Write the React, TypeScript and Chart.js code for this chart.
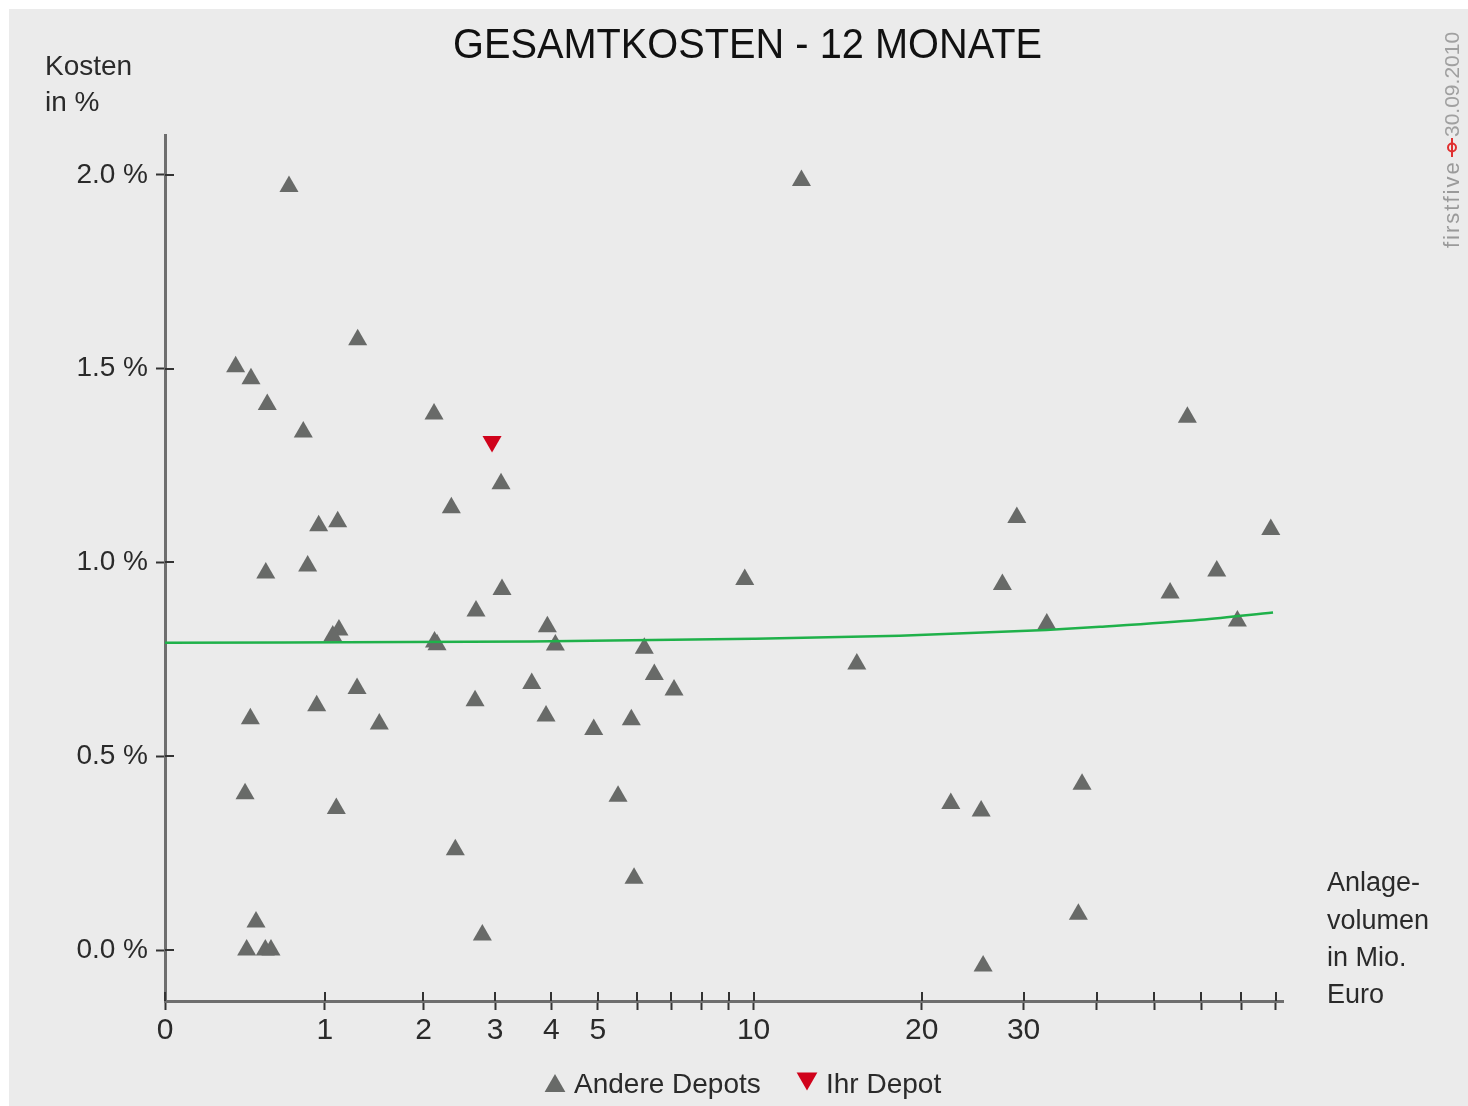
import React, { useEffect, useRef } from 'react';
import { Chart, registerables } from 'chart.js';

Chart.register(...registerables);

// ---- texts ----
const TITLE = 'GESAMTKOSTEN - 12 MONATE';
const Y_TITLE = ['Kosten', 'in %'];
const X_TITLE = ['Anlage-', 'volumen', 'in Mio.', 'Euro'];
const LEGEND_LABELS = ['Andere Depots', 'Ihr Depot'];
const WATERMARK = ['firstfive', '30.09.2010'];

// ---- data: Anlagevolumen (Mio. Euro) and Kosten (%) ----
const andereVolumen = [
  0.721, 1.293, 0.369, 0.463, 0.569, 0.828, 2.131, 3.095, 2.357, 0.95,
  1.111, 0.559, 0.862, 3.111, 2.706, 1.122, 1.068, 2.137, 2.169, 1.287,
  0.934, 0.459, 1.506, 2.692, 3.626, 0.426, 1.099, 2.411, 0.495, 0.436,
  0.556, 0.594, 2.801, 9.63, 3.921, 4.078, 6.198, 6.484, 7.081, 3.895,
  4.906, 5.842, 5.496, 5.915, 15.37, 12.23, 56.89, 29.21, 78.52, 63.74,
  27.59, 53.2, 32.87, 69.03, 22.47, 25.36, 37.75, 37.21, 25.56,
];
const andereKosten = [
  1.97, 1.575, 1.505, 1.474, 1.408, 1.337, 1.383, 1.203, 1.141, 1.095,
  1.105, 0.973, 0.991, 0.93, 0.875, 0.826, 0.81, 0.795, 0.788, 0.675,
  0.63, 0.597, 0.583, 0.643, 0.688, 0.403, 0.365, 0.259, 0.072, 0.0,
  0.0, 0.0, 0.039, 0.956, 0.834, 0.787, 0.779, 0.711, 0.671, 0.604,
  0.569, 0.594, 0.397, 0.185, 0.738, 1.986, 1.375, 1.116, 1.085, 0.978,
  0.943, 0.921, 0.841, 0.849, 0.378, 0.359, 0.428, 0.092, -0.041,
];
const ihrVolumen = [2.951];
const ihrKosten = [1.312];

const trendVolumen = [0, 3.6, 10, 18.3, 32.8, 40.5, 59.8, 79.2];
const trendKosten = [0.793, 0.796, 0.803, 0.811, 0.826, 0.834, 0.852, 0.871];

const yTickValues = [0, 0.5, 1.0, 1.5, 2.0];
const xTickValues = [0, 1, 2, 3, 4, 5, 6, 7, 8, 9, 10, 20, 30, 40, 50, 60, 70, 80];
const xTickLabelled = [0, 1, 2, 3, 4, 5, 10, 20, 30];

const X_MAX = 82.3;
const Y_MIN = -0.1316;
const Y_MAX = 2.1032;

// axis transform of the Anlagevolumen axis (compressed, log-like)
const SCALE_C = 1.2;
const tx = (v: number) => Math.log(1 + v / SCALE_C);

const FONT = "'Liberation Sans', Arial, sans-serif";
const GRAY_TRI = '#686a68';
const RED_TRI = '#d0021b';

function triangle(ctx: CanvasRenderingContext2D, cx: number, cy: number, r: number, down: boolean) {
  const s = down ? -1 : 1;
  const hw = r * Math.sin(Math.PI * 2 / 3);
  ctx.beginPath();
  ctx.moveTo(cx, cy - s * r);
  ctx.lineTo(cx + hw, cy + s * r / 2);
  ctx.lineTo(cx - hw, cy + s * r / 2);
  ctx.closePath();
  ctx.fill();
}

const innerTicks = {
  id: 'innerTicks',
  afterDraw(chart: any) {
    const { ctx, chartArea, scales } = chart;
    const xs = scales.x;
    const ys = scales.y;
    ctx.save();
    ctx.strokeStyle = '#333';
    ctx.lineWidth = 2;
    xs.ticks.forEach((t: any) => {
      const p = Math.round(xs.getPixelForValue(t.value));
      ctx.beginPath();
      ctx.moveTo(p, chartArea.bottom);
      ctx.lineTo(p, chartArea.bottom - 9);
      ctx.stroke();
    });
    ys.ticks.forEach((t: any) => {
      const p = Math.round(ys.getPixelForValue(t.value));
      ctx.beginPath();
      ctx.moveTo(chartArea.left, p);
      ctx.lineTo(chartArea.left + 9, p);
      ctx.stroke();
    });
    ctx.restore();
  },
};

const texts = {
  id: 'texts',
  afterDraw(chart: any) {
    const ctx: CanvasRenderingContext2D = chart.ctx;
    ctx.save();
    // title
    ctx.fillStyle = '#111';
    ctx.font = `42px ${FONT}`;
    ctx.textAlign = 'center';
    ctx.textBaseline = 'alphabetic';
    ctx.fillText(TITLE, 738.5, 49, 589);

    // y axis title
    ctx.fillStyle = '#2a2a2a';
    ctx.textAlign = 'left';
    ctx.font = `28px ${FONT}`;
    ctx.fillText(Y_TITLE[0], 36, 66);
    ctx.fillText(Y_TITLE[1], 36, 102);

    // x axis title
    ctx.font = `27px ${FONT}`;
    const xb = [882, 920, 957, 994];
    X_TITLE.forEach((s, i) => ctx.fillText(s, 1318, xb[i]));

    // legend
    ctx.fillStyle = GRAY_TRI;
    triangle(ctx, 546, 1077, 12, false);
    ctx.fillStyle = RED_TRI;
    triangle(ctx, 798, 1069.5, 12, true);
    ctx.fillStyle = '#2a2a2a';
    ctx.font = `28px ${FONT}`;
    ctx.fillText(LEGEND_LABELS[0], 565, 1084);
    ctx.fillText(LEGEND_LABELS[1], 817, 1084);

    // watermark (vertical)
    ctx.save();
    ctx.translate(1450, 239);
    ctx.rotate(-Math.PI / 2);
    ctx.fillStyle = '#9a9a9a';
    ctx.font = `22px ${FONT}`;
    try { (ctx as any).letterSpacing = '2px'; } catch (e) {}
    ctx.fillText(WATERMARK[0], 0, 0);
    try { (ctx as any).letterSpacing = '0px'; } catch (e) {}
    // logo
    ctx.strokeStyle = '#e03030';
    ctx.lineWidth = 2;
    ctx.beginPath();
    ctx.moveTo(91, -7);
    ctx.lineTo(110, -7);
    ctx.stroke();
    ctx.beginPath();
    ctx.arc(100.5, -7, 4, 0, Math.PI * 2);
    ctx.stroke();
    ctx.font = `21px ${FONT}`;
    ctx.fillStyle = '#a0a0a0';
    ctx.fillText(WATERMARK[1], 111, 0, 107);
    ctx.restore();

    ctx.restore();
  },
};

export default function App() {
  const ref = useRef<HTMLCanvasElement | null>(null);

  useEffect(() => {
    document.documentElement.style.overflow = 'hidden';
    const canvas = ref.current;
    if (!canvas) return;
    Chart.defaults.font.family = FONT;

    const chart = new Chart(canvas, {
      type: 'scatter',
      data: {
        datasets: [
          {
            label: 'Trend',
            data: trendVolumen.map((v, i) => ({ x: tx(v), y: trendKosten[i] })),
            showLine: true,
            borderColor: '#1fb14a',
            borderWidth: 2.5,
            pointRadius: 0,
            cubicInterpolationMode: 'monotone',
            fill: false,
          } as any,
          {
            label: LEGEND_LABELS[1],
            data: ihrVolumen.map((v, i) => ({ x: tx(v), y: ihrKosten[i] })),
            pointStyle: 'triangle',
            rotation: 180,
            pointRadius: 11,
            backgroundColor: RED_TRI,
            borderWidth: 0,
          } as any,
          {
            label: LEGEND_LABELS[0],
            data: andereVolumen.map((v, i) => ({ x: tx(v), y: andereKosten[i] })),
            pointStyle: 'triangle',
            pointRadius: 11,
            backgroundColor: GRAY_TRI,
            borderWidth: 0,
          } as any,
        ],
      },
      options: {
        responsive: false,
        animation: false,
        events: [],
        layout: { padding: { left: 0, top: 126, right: 185, bottom: 45 } },
        plugins: {
          legend: { display: false },
          title: { display: false },
          tooltip: { enabled: false },
        },
        scales: {
          x: {
            type: 'linear',
            min: 0,
            max: tx(X_MAX),
            afterBuildTicks: (s: any) => {
              s.ticks = xTickValues.map((v) => ({ value: tx(v) }));
            },
            afterFit: (s: any) => {
              s.height = 60;
            },
            ticks: {
              autoSkip: false,
              maxRotation: 0,
              minRotation: 0,
              padding: 3,
              color: '#2a2a2a',
              font: { size: 30, family: FONT },
              callback: (_v: any, i: number) =>
                xTickLabelled.includes(xTickValues[i]) ? String(xTickValues[i]) : '',
            },
            grid: {
              drawOnChartArea: false,
              drawTicks: true,
              tickLength: 9,
              tickWidth: 2,
              tickColor: '#333',
            },
            border: { display: true, color: '#6e6e6e', width: 3 },
          },
          y: {
            type: 'linear',
            min: Y_MIN,
            max: Y_MAX,
            afterBuildTicks: (s: any) => {
              s.ticks = yTickValues.map((v) => ({ value: v }));
            },
            afterFit: (s: any) => {
              s.width = 156;
            },
            ticks: {
              padding: 8,
              color: '#2a2a2a',
              font: { size: 28, family: FONT },
              callback: (v: any) => Number(v).toFixed(1) + ' %',
            },
            grid: {
              drawOnChartArea: false,
              drawTicks: true,
              tickLength: 9,
              tickWidth: 2,
              tickColor: '#333',
            },
            border: { display: true, color: '#6e6e6e', width: 3 },
          },
        },
      } as any,
      plugins: [innerTicks, texts],
    });
    return () => chart.destroy();
  }, []);

  return (
    <div
      style={{
        position: 'absolute',
        left: 9,
        top: 9,
        width: 1459,
        height: 1097,
        background: '#ebebeb',
        overflow: 'hidden',
      }}
    >
      <canvas ref={ref} width={1459} height={1097} style={{ display: 'block' }} />
    </div>
  );
}
